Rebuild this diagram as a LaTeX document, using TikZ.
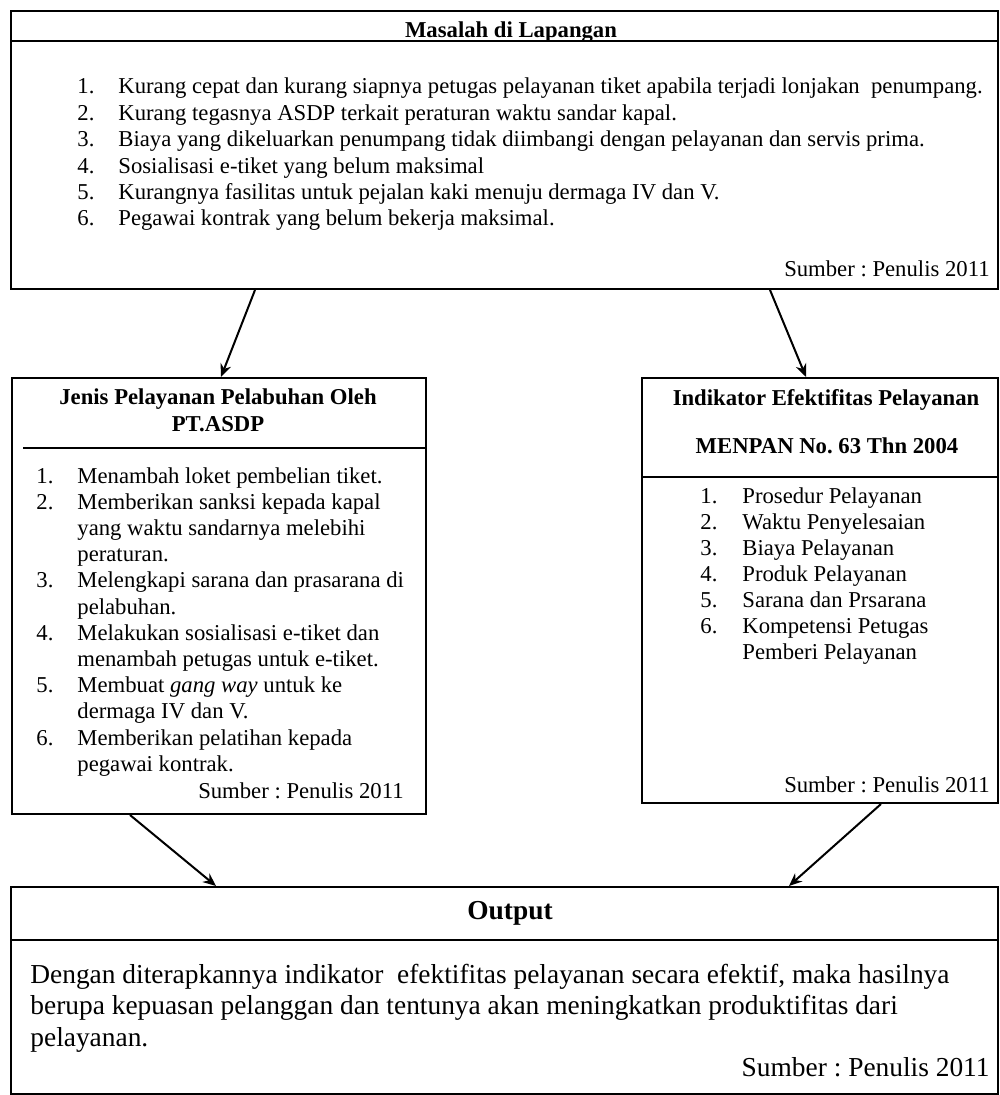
\documentclass[tikz,border=0pt]{standalone}
\usepackage{fontspec}
\setmainfont{Liberation Serif}
\frenchspacing
\usetikzlibrary{calc,fit,arrows.meta}
\tikzset{>={Stealth[length=6.5pt,width=5.5pt]}}
\tikzset{box/.style={draw,line width=1pt,inner sep=0pt},
  arr/.style={->,line width=1pt},
  txt/.style={anchor=base west,inner sep=0pt,font=\fontsize{11.35}{13}\selectfont},
  ttl/.style={anchor=base,inner sep=0pt,font=\fontsize{11.35}{13}\selectfont\bfseries},
  src/.style={anchor=base east,inner sep=0pt,font=\fontsize{11.35}{13}\selectfont}}

\begin{document}
\begin{tikzpicture}[x=0.5pt,y=-0.5pt]
\useasboundingbox (0,0) rectangle (999,1095);
% the four boxes
\node[box,fit={(11,11) (998,289)}] (masalah) {};
\node[box,fit={(12,378) (426,814)}] (jenis) {};
\node[box,fit={(642,378) (998,803)}] (indikator) {};
\node[box,fit={(11,887) (998,1094)}] (output) {};
\draw[line width=1pt] (11,41) -- (998,41);
\draw[line width=1pt] (23,448) -- (426,448);
\draw[line width=1pt] (642,477) -- (998,477);
\draw[line width=1pt] (11,940) -- (998,940);
% top box
\node[ttl] (masalahttl) at (511,38) {Masalah di Lapangan};
\foreach \n/\t [count=\i from 0] in {1./Kurang cepat dan kurang siapnya petugas pelayanan tiket apabila terjadi lonjakan\ \ penumpang.,
  2./Kurang tegasnya ASDP terkait peraturan waktu sandar kapal.,
  3./Biaya yang dikeluarkan penumpang tidak diimbangi dengan pelayanan dan servis prima.,
  4./Sosialisasi e-tiket yang belum maksimal,
  5./Kurangnya fasilitas untuk pejalan kaki menuju dermaga IV dan V.,
  6./Pegawai kontrak yang belum bekerja maksimal.} {
\node[txt] (mn\i) at (77,{94+26.4*\i}) {\n};
\node[txt] (mt\i) at (118,{94+26.4*\i}) {\t};
};
\node[src] (masalahsrc) at (990,277) {Sumber : Penulis 2011};
% left box
\node[ttl] (jenisttl) at (218,405) {Jenis Pelayanan Pelabuhan Oleh};
\node[ttl] (jenisttlb) at (218,432) {PT.ASDP};
\foreach \n/\t [count=\i from 0] in {1./Menambah loket pembelian tiket.,
  2./Memberikan sanksi kepada kapal, /yang waktu sandarnya melebihi, /peraturan.,
  3./Melengkapi sarana dan prasarana di, /pelabuhan.,
  4./Melakukan sosialisasi e-tiket dan, /menambah petugas untuk e-tiket.,
  5./Membuat \textit{gang way} untuk ke, /dermaga IV dan V.,
  6./Memberikan pelatihan kepada, /pegawai kontrak.} {
\node[txt] (jn\i) at (36,{483+26.2*\i}) {\n};
\node[txt] (jt\i) at (77,{483+26.2*\i}) {\t};
};
\node[src] (jenissrc) at (404,798) {Sumber : Penulis 2011};
% right box
\node[ttl] (indikatorttl) at (826,406) {Indikator Efektifitas Pelayanan};
\node[ttl] (indikatorttlb) at (827,453) {MENPAN No. 63 Thn 2004};
\foreach \n/\t [count=\i from 0] in {1./Prosedur Pelayanan, 2./Waktu Penyelesaian,
  3./Biaya Pelayanan, 4./Produk Pelayanan, 5./Sarana dan Prsarana,
  6./Kompetensi Petugas, /Pemberi Pelayanan} {
\node[txt] (in\i) at (700,{503+26.1*\i}) {\n};
\node[txt] (it\i) at (742,{503+26.1*\i}) {\t};
};
\node[src] (indikatorsrc) at (990,792) {Sumber : Penulis 2011};
% bottom box
\node[ttl,font=\fontsize{13.7}{16}\selectfont\bfseries] (outputttl) at (510,919) {Output};
\foreach \t [count=\i from 0] in {Dengan diterapkannya indikator\ \ efektifitas pelayanan secara efektif{,} maka hasilnya,
  berupa kepuasan pelanggan dan tentunya akan meningkatkan produktifitas dari,
  pelayanan.} {
\node[txt,font=\fontsize{13.7}{16}\selectfont] (ot\i) at (30,{983+31.5*\i}) {\t};
};
\node[src,font=\fontsize{13.7}{16}\selectfont] (outputsrc) at (990,1076) {Sumber : Penulis 2011};
% arrows
\draw[arr] ($(masalah.south west)+(245,0)$) -- ($(jenis.north west)+(210,0)$);
\draw[arr] ($(masalah.south west)+(760,0)$) -- ($(indikator.north west)+(165,0)$);
\draw[arr] ($(jenis.south west)+(119,0)$) -- ($(output.north west)+(206,0)$);
\draw[arr] ($(indikator.south west)+(240,0)$) -- ($(output.north west)+(779,0)$);
\end{tikzpicture}
\end{document}
